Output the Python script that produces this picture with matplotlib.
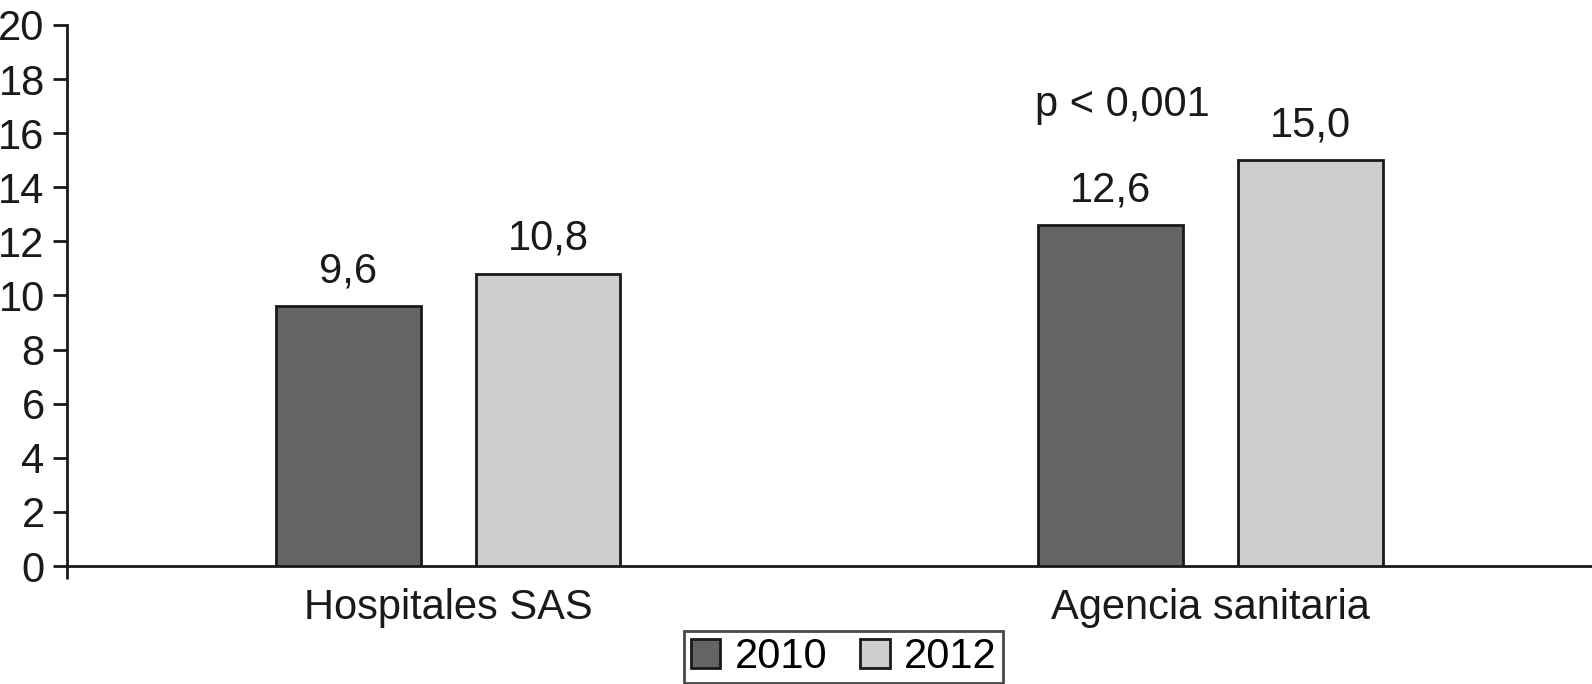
import matplotlib
matplotlib.use("Agg")
import matplotlib.pyplot as plt
import numpy as np

plt.rcParams['font.family'] = ['Liberation Sans', 'DejaVu Sans']

categories = ["Hospitales SAS", "Agencia sanitaria"]
series_names = ["2010", "2012"]
values_2010 = [9.6, 12.6]
values_2012 = [10.8, 15.0]
labels_2010 = ["9,6", "12,6"]
labels_2012 = ["10,8", "15,0"]
yticks = [0, 2, 4, 6, 8, 10, 12, 14, 16, 18, 20]
annotation = "p < 0,001"

fig = plt.figure(figsize=(15.92, 6.84), dpi=100)
ax = fig.add_axes([0.042, 0.1725, 0.958, 0.791])

x = np.arange(len(categories))
off = 0.131
w = 0.19
fs = 30
b1 = ax.bar(x - off, values_2010, w, color="#636466", edgecolor="#1a1a1a", linewidth=2, label=series_names[0], zorder=3)
b2 = ax.bar(x + off, values_2012, w, color="#cdcecf", edgecolor="#1a1a1a", linewidth=2, label=series_names[1], zorder=3)

for xi, v, t in zip(x - off, values_2010, labels_2010):
    ax.text(xi, v + 0.55, t, ha="center", va="bottom", fontsize=fs, color="#1a1a1a")
for xi, v, t in zip(x + off, values_2012, labels_2012):
    ax.text(xi, v + 0.55, t, ha="center", va="bottom", fontsize=fs, color="#1a1a1a")

ax.text(1 - off + 0.015, 16.3, annotation, ha="center", va="bottom", fontsize=fs, color="#1a1a1a")

ax.set_xlim(-0.5, 1.5)
ax.set_ylim(0, 20)
ax.set_yticks(yticks)
ax.set_yticklabels([str(t) for t in yticks], fontsize=fs, color="#1a1a1a")
ax.set_xticks(x)
ax.set_xticklabels(categories, fontsize=fs, color="#1a1a1a")
ax.tick_params(axis="x", length=0, pad=16)
ax.set_xticks([-0.5], minor=True)
ax.tick_params(axis="x", which="minor", length=9, width=2, color="#1a1a1a")
ax.tick_params(axis="y", length=10, width=2, color="#1a1a1a", pad=6)

for s in ["top", "right"]:
    ax.spines[s].set_visible(False)
for s in ["left", "bottom"]:
    ax.spines[s].set_linewidth(2)
    ax.spines[s].set_color("#1a1a1a")

leg = fig.legend(handles=[b1, b2], labels=series_names, loc="lower center",
                 bbox_to_anchor=(0.53, 0.0), ncol=2, fontsize=fs, frameon=True,
                 fancybox=False, edgecolor="#1a1a1a", handlelength=0.7, handleheight=0.7,
                 handletextpad=0.35, columnspacing=0.8, borderpad=0.15, borderaxespad=0.02)
leg.get_frame().set_linewidth(2)

fig.savefig("out.png", dpi=100)
